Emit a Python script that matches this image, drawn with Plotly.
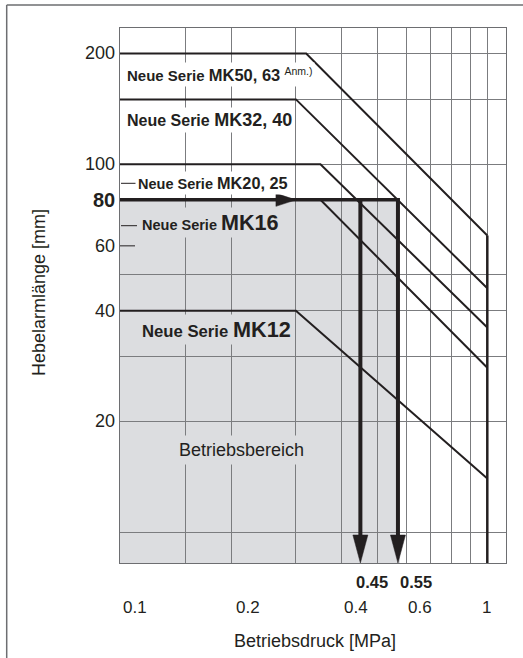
import math
import plotly.graph_objects as go

# ---------------- data ----------------
series_names = ["MK50, 63", "MK32, 40", "MK20, 25", "MK16", "MK12"]
series_notes = ["Anm.)", "", "", "", ""]
max_length_mm = [200, 150, 100, 80, 40]             # horizontal part of each limit line
knee_pressure_mpa = [0.32, 0.30, 0.35, 0.35, 0.30]  # where the limit line starts falling
length_at_1mpa_mm = [64, 46, 36, 28, 14]            # value of each limit line at 1 MPa
max_pressure_mpa = 1.0

example_length_mm = 80
example_arrow_pressure_mpa = [0.45, 0.57]
example_pressure_labels = ["0.45", "0.55"]
example_arrowhead_pressure_mpa = 0.30

x_tick_values = [0.1, 0.2, 0.4, 0.6, 1]
x_tick_labels = ["0.1", "0.2", "0.4", "0.6", "1"]
y_tick_values = [20, 40, 60, 80, 100, 200]
y_tick_labels = ["20", "40", "60", "80", "100", "200"]
x_grid_values = [0.15, 0.2, 0.3, 0.4, 0.5, 0.6, 0.7, 0.8, 0.9, 1.0]
y_grid_values = [10, 20, 30, 40, 50, 100, 150, 200]

x_title = "Betriebsdruck [MPa]"
y_title = "Hebelarmlänge [mm]"
region_label = "Betriebsbereich"
series_prefix = "Neue Serie "

# ---------------- layout / style ----------------
W, H = 523, 658
ML, MR, MT, MB = 120, 17, 28, 95
PW, PH = W - ML - MR, H - MT - MB
XR = [-1.0036, 0.0511]
YR = [0.9164, 2.3701]
PX_X = PW / (XR[1] - XR[0])
PX_Y = PH / (YR[1] - YR[0])

INK = "#231f20"
GRID = "#7b7c7f"
FILL = "#dcdde0"
FRAME = "#6d6e71"
FONT = "Liberation Sans, Arial, Helvetica, sans-serif"

x_min = 10 ** XR[0]
y_min = 10 ** YR[0]


def lx(p, dpx=0.0):
    return 10 ** (math.log10(p) + dpx / PX_X)


def ly(v, dpx=0.0):
    return 10 ** (math.log10(v) + dpx / PX_Y)


def paper_x(px):
    return (px - ML) / PW


def paper_y(py):
    return 1 - (py - MT) / PH


fig = go.Figure()

# limit lines of each series
for i, name in enumerate(series_names):
    fig.add_trace(go.Scatter(
        x=[x_min, knee_pressure_mpa[i], max_pressure_mpa],
        y=[max_length_mm[i], max_length_mm[i], length_at_1mpa_mm[i]],
        mode="lines", line=dict(color=INK, width=2),
        hoverinfo="skip", showlegend=False))

# maximum pressure line
fig.add_trace(go.Scatter(
    x=[max_pressure_mpa, max_pressure_mpa], y=[max(length_at_1mpa_mm), y_min],
    mode="lines", line=dict(color=INK, width=2.5), hoverinfo="skip", showlegend=False))

# example: horizontal line at 80 mm
x_end = lx(example_arrow_pressure_mpa[-1], 2)
fig.add_trace(go.Scatter(
    x=[x_min, x_end], y=[example_length_mm, example_length_mm],
    mode="lines", line=dict(color=INK, width=3.5), hoverinfo="skip", showlegend=False))
ah = example_arrowhead_pressure_mpa
fig.add_trace(go.Scatter(
    x=[lx(ah, -20), ah, lx(ah, -20), lx(ah, -20)],
    y=[ly(example_length_mm, 6.5), example_length_mm, ly(example_length_mm, -6.5), ly(example_length_mm, 6.5)],
    mode="lines", fill="toself", fillcolor=INK, line=dict(color=INK, width=0.5),
    hoverinfo="skip", showlegend=False))

# example: vertical arrows down to the pressure axis
base = ly(y_min, 28)
for p in example_arrow_pressure_mpa:
    fig.add_trace(go.Scatter(
        x=[p, p], y=[example_length_mm, base], mode="lines",
        line=dict(color=INK, width=4), hoverinfo="skip", showlegend=False))
    fig.add_trace(go.Scatter(
        x=[lx(p, -7.5), lx(p, 7.5), p, lx(p, -7.5)], y=[base, base, y_min, base],
        mode="lines", fill="toself", fillcolor=INK, line=dict(color=INK, width=0.5),
        hoverinfo="skip", showlegend=False))

shapes = [
    # operating range (below gridlines)
    dict(type="rect", xref="x", yref="y", x0=x_min, x1=x_end, y0=y_min, y1=example_length_mm,
         fillcolor=FILL, line=dict(width=0), layer="below"),
    # outer frame (cut off by the picture)
    dict(type="line", xref="paper", yref="paper", x0=paper_x(6.7), x1=paper_x(540),
         y0=paper_y(5), y1=paper_y(5), line=dict(color=FRAME, width=1.5)),
    dict(type="line", xref="paper", yref="paper", x0=paper_x(6.7), x1=paper_x(6.7),
         y0=paper_y(5), y1=paper_y(680), line=dict(color=FRAME, width=1.5)),
]

annotations = []

# y tick labels and the short inside tick where no gridline is drawn
for v, t in zip(y_tick_values, y_tick_labels):
    txt = f"<b>{t}</b>" if v == example_length_mm else t
    annotations.append(dict(
        text=txt, xref="paper", yref="y", x=0, y=math.log10(v), xshift=-3,
        xanchor="right", yanchor="middle", showarrow=False,
        font=dict(family=FONT, size=20 if v == example_length_mm else 18, color=INK)))
    if v not in y_grid_values:
        shapes.append(dict(type="line", xref="paper", yref="y", x0=0, x1=15 / PW, y0=v, y1=v,
                           line=dict(color=INK, width=1)))

# series labels
label_left_px = [126, 125.7, 137, 140.7, 140.7]
label_mid_px = [75, 120, 183.3, 223, 329]
prefix_size = [15, 16, 14.5, 14.5, 16.7]
name_size = [16.5, 18, 16.3, 21.6, 21.7]
label_bg = ["white", "white", "white", FILL, FILL]
leader_mid_px = [None, None, 183.3, 225.7, None]
for i, name in enumerate(series_names):
    text = f"<b>{series_prefix}</b><b><span style='font-size:{name_size[i]}px'>{name}</span></b>"
    if series_notes[i]:
        text += f" <sup>{series_notes[i]}</sup>"
    annotations.append(dict(
        text=text, xref="paper", yref="paper", x=paper_x(label_left_px[i] - 2), y=paper_y(label_mid_px[i]),
        xanchor="left", yanchor="middle", showarrow=False, bgcolor=label_bg[i], borderpad=2,
        font=dict(family=FONT, size=prefix_size[i], color=INK)))
    if leader_mid_px[i] is not None:
        shapes.append(dict(type="line", xref="paper", yref="paper",
                           x0=paper_x(121), x1=paper_x(137),
                           y0=paper_y(leader_mid_px[i]), y1=paper_y(leader_mid_px[i]),
                           line=dict(color=INK, width=1)))

# operating range label
annotations.append(dict(
    text=region_label, xref="paper", yref="paper", x=paper_x(241.7), y=paper_y(450),
    xanchor="center", yanchor="middle", showarrow=False, bgcolor=FILL, borderpad=4,
    font=dict(family=FONT, size=18, color=INK)))

# x tick labels (set to the right of their gridline as in the original)
x_label_shift = [14, 17, 14, 14, -1]
for v, t, s in zip(x_tick_values, x_tick_labels, x_label_shift):
    annotations.append(dict(
        text=t, xref="x", yref="paper", x=math.log10(v), y=0, xshift=s, yshift=-44.5,
        xanchor="center", yanchor="middle", showarrow=False,
        font=dict(family=FONT, size=17, color=INK)))

# example pressure labels
ex_shift = [12, 18]
for p, t, s in zip(example_arrow_pressure_mpa, example_pressure_labels, ex_shift):
    annotations.append(dict(
        text=f"<b>{t}</b>", xref="x", yref="paper", x=math.log10(p), y=0, xshift=s, yshift=-18.5,
        xanchor="center", yanchor="middle", showarrow=False,
        font=dict(family=FONT, size=16.5, color=INK)))

# axis titles
annotations.append(dict(
    text=x_title, xref="paper", yref="paper", x=paper_x(315), y=paper_y(641),
    xanchor="center", yanchor="middle", showarrow=False,
    font=dict(family=FONT, size=18, color=INK)))
annotations.append(dict(
    text=y_title, xref="paper", yref="paper", x=paper_x(39), y=paper_y(293),
    xanchor="center", yanchor="middle", showarrow=False, textangle=-90,
    font=dict(family=FONT, size=18, color=INK)))

fig.update_layout(
    width=W, height=H, autosize=False,
    margin=dict(l=ML, r=MR, t=MT, b=MB, pad=0),
    paper_bgcolor="white", plot_bgcolor="white",
    showlegend=False,
    font=dict(family=FONT, color=INK),
    xaxis=dict(type="log", range=XR, tickmode="array", tickvals=x_grid_values,
               showticklabels=False, ticks="", showgrid=True, gridcolor=GRID, gridwidth=1,
               showline=True, mirror=True, linecolor=FRAME, linewidth=1.2, zeroline=False,
               fixedrange=True),
    yaxis=dict(type="log", range=YR, tickmode="array", tickvals=y_grid_values,
               showticklabels=False, ticks="", showgrid=True, gridcolor=GRID, gridwidth=1,
               showline=True, mirror=True, linecolor=FRAME, linewidth=1.2, zeroline=False,
               fixedrange=True),
    shapes=shapes,
    annotations=annotations,
)

fig.write_html("out.html", config={"displayModeBar": False, "staticPlot": True},
               post_script="document.body.style.margin='0';")
